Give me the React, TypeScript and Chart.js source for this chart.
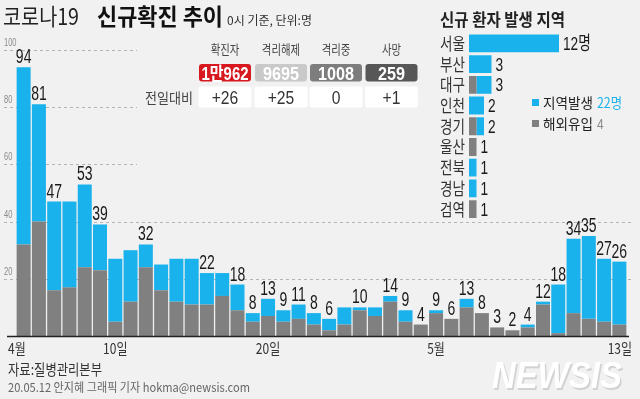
import React, { useEffect, useRef } from 'react';
import { Chart, registerables } from 'chart.js';

Chart.register(...registerables);

// ---------------- data ----------------
const categories = ['4/4', '4/5', '4/6', '4/7', '4/8', '4/9', '4/10', '4/11', '4/12', '4/13', '4/14', '4/15', '4/16', '4/17', '4/18', '4/19', '4/20', '4/21', '4/22', '4/23', '4/24', '4/25', '4/26', '4/27', '4/28', '4/29', '4/30', '5/1', '5/2', '5/3', '5/4', '5/5', '5/6', '5/7', '5/8', '5/9', '5/10', '5/11', '5/12', '5/13'];
const importedCases = [32, 40, 16, 17, 24, 23, 5, 12, 24, 16, 12, 11, 11, 14, 9, 5, 7, 5, 6, 4, 2, 4, 9, 7, 12, 5, 4, 8, 6, 10, 8, 3, 2, 3, 11, 1, 8, 6, 5, 4];
const localCases = [62, 41, 31, 30, 29, 16, 22, 18, 8, 9, 15, 16, 11, 8, 9, 3, 6, 4, 5, 4, 4, 6, 1, 3, 2, 4, 0, 1, 0, 3, 0, 0, 0, 1, 1, 17, 26, 29, 22, 22];
const valueLabels = ['94', '81', '47', '', '53', '39', '', '', '32', '', '', '', '22', '', '18', '8', '13', '9', '11', '8', '6', '', '10', '', '14', '9', '4', '9', '6', '13', '8', '3', '2', '4', '12', '18', '34', '35', '27', '26'];
const xTickIndex = [0, 6, 16, 27, 39];
const xTickText = ['4월', '10일', '20일', '5월', '13일'];
const yTicks = [20, 40, 60, 80, 100];

const statHeaders = ['확진자', '격리해제', '격리중', '사망'];
const statValues = ['1만962', '9695', '1008', '259'];
const statDiffs = ['+26', '+25', '0', '+1'];
const statDiffTitle = '전일대비';

const regionNames = ['서울', '부산', '대구', '인천', '경기', '울산', '전북', '경남', '검역'];
const regionLocal = [12, 3, 2, 2, 1, 0, 1, 1, 0];
const regionImported = [0, 0, 1, 0, 1, 1, 0, 0, 1];
const regionLabels = ['12명', '3', '3', '2', '2', '1', '1', '1', '1'];
const legendLocalText = '지역발생';
const legendLocalTotal = '22명';
const legendImportedText = '해외유입';
const legendImportedTotal = '4';

const titleA = '코로나19';
const titleB = '신규확진 추이';
const titleNote = '0시 기준, 단위:명';
const regionTitle = '신규 환자 발생 지역';
const sourceText = '자료:질병관리본부';
const creditText = '20.05.12 안지혜 그래픽 기자 hokma@newsis.com';
const logoText = 'NEWSIS';

// ---------------- styles ----------------
const BG = '#f1f1f1';
const BLUE = '#1ab2ec';
const GRAY = '#808080';
const STAT_COLORS = ['#d7191f', '#c9c9c9', '#7d7d7d', '#575757'];
const KR = '"Noto Sans CJK KR", "Noto Sans", sans-serif';
const NUM = '"Liberation Sans", "Noto Sans CJK KR", sans-serif';

function txt(ctx: CanvasRenderingContext2D, s: string, x: number, y: number, font: string, color: string, align: CanvasTextAlign = 'left', sx = 1) {
  ctx.save();
  ctx.font = font;
  ctx.fillStyle = color;
  ctx.textAlign = align;
  ctx.textBaseline = 'alphabetic';
  ctx.translate(x, y);
  ctx.scale(sx, 1);
  ctx.fillText(s, 0, 0);
  ctx.restore();
}

function fit(ctx: CanvasRenderingContext2D, s: string, x: number, y: number, font: string, color: string, width: number, align: CanvasTextAlign = 'left') {
  ctx.save();
  ctx.font = font;
  const w = ctx.measureText(s).width;
  ctx.restore();
  txt(ctx, s, x, y, font, color, align, width / w);
}

const mainDecor = {
  id: 'mainDecor',
  beforeDraw(chart: any) {
    const ctx = chart.ctx;
    ctx.save();
    ctx.fillStyle = BG;
    ctx.fillRect(0, 0, chart.width, chart.height);
    ctx.restore();
  },
  beforeDatasetsDraw(chart: any) {
    const ctx = chart.ctx;
    const ys = chart.scales.y;
    ctx.save();
    ctx.strokeStyle = '#b4b4b4';
    ctx.lineWidth = 1;
    ctx.setLineDash([3, 3]);
    yTicks.forEach((v) => {
      const y = Math.round(ys.getPixelForValue(v)) + 0.5;
      const xEnd = v >= 60 ? 137 : 631;
      ctx.beginPath();
      ctx.moveTo(4, y);
      ctx.lineTo(xEnd, y);
      ctx.stroke();
    });
    ctx.restore();
    yTicks.forEach((v) => {
      const y = ys.getPixelForValue(v);
      txt(ctx, String(v), 4, y - 4, `10px ${NUM}`, '#8a8a8a', 'left', 0.75);
    });
  },
  afterDatasetsDraw(chart: any) {
    const ctx = chart.ctx;
    const xs = chart.scales.x;
    const ys = chart.scales.y;
    const area = chart.chartArea;
    // baseline
    ctx.save();
    ctx.strokeStyle = '#222';
    ctx.lineWidth = 1.5;
    ctx.beginPath();
    ctx.moveTo(7, area.bottom + 0.5);
    ctx.lineTo(629, area.bottom + 0.5);
    ctx.stroke();
    ctx.restore();
    // value labels
    valueLabels.forEach((s, i) => {
      if (!s) return;
      const x = xs.getPixelForValue(i);
      const y = ys.getPixelForValue(importedCases[i] + localCases[i]);
      txt(ctx, s, x, y - 4, `20px ${NUM}`, '#1a1a1a', 'center', 0.7);
    });
    // x tick labels
    xTickIndex.forEach((idx, k) => {
      const x = xs.getPixelForValue(idx);
      let align: CanvasTextAlign = 'center';
      let px = x;
      if (k === 0) { align = 'left'; px = area.left - 8; }
      if (k === xTickIndex.length - 1) { align = 'right'; px = area.right + 5; }
      txt(ctx, xTickText[k], px, 354, `15px ${KR}`, '#333', align, 0.8);
    });
    // title
    fit(ctx, titleA, 3, 25, `23px ${KR}`, '#222', 76);
    fit(ctx, titleB, 97, 25, `bold 23px ${KR}`, '#111', 126);
    fit(ctx, titleNote, 227, 25, `12px ${KR}`, '#333', 85);
    // stats table
    const centers = [225, 281, 336, 391.5];
    statHeaders.forEach((h, i) => {
      txt(ctx, h, centers[i], 54, `13px ${KR}`, '#444', 'center', 0.8);
      ctx.save();
      ctx.fillStyle = STAT_COLORS[i];
      ctx.beginPath();
      (ctx as any).roundRect(centers[i] - 26, 64, 52, 17.5, 3);
      ctx.fill();
      ctx.fillStyle = '#ffffff';
      ctx.beginPath();
      (ctx as any).roundRect(centers[i] - 26.5, 86.5, 53, 21, 2);
      ctx.fill();
      ctx.restore();
      ctx.save();
      ctx.font = `bold 18px ${NUM}`;
      const w = ctx.measureText(statValues[i]).width;
      ctx.restore();
      const sx = Math.min(0.9, 47 / w);
      txt(ctx, statValues[i], centers[i], 79.5, `bold 18px ${NUM}`, '#ffffff', 'center', sx);
      txt(ctx, statDiffs[i], centers[i], 104, `18px ${NUM}`, '#333', 'center', 0.87);
    });
    fit(ctx, statDiffTitle, 193, 103, `14px ${KR}`, '#444', 48, 'right');
    // footer
    fit(ctx, sourceText, 8, 375, `15px ${KR}`, '#333', 94);
    fit(ctx, creditText, 8, 392, `12px ${KR}`, '#666', 242);
    ctx.save();
    ctx.font = `italic bold 36px "Liberation Sans", sans-serif`;
    const lw = ctx.measureText(logoText).width;
    ctx.restore();
    txt(ctx, logoText, 493.5, 389.5, `italic bold 36px "Liberation Sans", sans-serif`, '#d2d2d2', 'left', 130 / lw);
    txt(ctx, logoText, 492, 388, `italic bold 36px "Liberation Sans", sans-serif`, '#ffffff', 'left', 130 / lw);
  },
};

const regionDecor = {
  id: 'regionDecor',
  afterDatasetsDraw(chart: any) {
    const ctx = chart.ctx;
    const xs = chart.scales.x;
    const ys = chart.scales.y;
    fit(ctx, regionTitle, 440, 26, `bold 17px ${KR}`, '#222', 125);
    regionNames.forEach((n, i) => {
      const y = ys.getPixelForValue(i);
      fit(ctx, n, 440, y + 6.5, `17px ${KR}`, '#333', 25);
      const xe = xs.getPixelForValue(regionLocal[i] + regionImported[i]);
      txt(ctx, regionLabels[i], xe + 4, y + 6.5, `19px ${NUM}`, '#1a1a1a', 'left', 0.72);
    });
    // legend
    ctx.save();
    ctx.fillStyle = BLUE;
    ctx.fillRect(532, 99, 7, 7);
    ctx.fillStyle = GRAY;
    ctx.fillRect(532, 120, 7, 7);
    ctx.restore();
    fit(ctx, legendLocalText, 543, 107.5, `14px ${KR}`, '#222', 50);
    fit(ctx, legendLocalTotal, 597, 107.5, `14px ${KR}`, BLUE, 25);
    fit(ctx, legendImportedText, 543, 128.5, `14px ${KR}`, '#222', 50);
    txt(ctx, legendImportedTotal, 597, 128.5, `14px ${NUM}`, '#8a8a8a', 'left', 0.85);
  },
};

export default function App() {
  const mainRef = useRef<HTMLCanvasElement>(null);
  const regRef = useRef<HTMLCanvasElement>(null);

  useEffect(() => {
    document.body.style.margin = '0';
    const main = new Chart(mainRef.current as HTMLCanvasElement, {
      type: 'bar',
      data: {
        labels: categories,
        datasets: [
          { label: '해외유입', data: importedCases, backgroundColor: GRAY, borderWidth: 0, barPercentage: 1, categoryPercentage: 0.917 },
          { label: '지역발생', data: localCases, backgroundColor: BLUE, borderWidth: 0, barPercentage: 1, categoryPercentage: 0.917 },
        ],
      },
      options: {
        responsive: false,
        maintainAspectRatio: false,
        animation: false,
        devicePixelRatio: 1,
        layout: { padding: { left: 16, right: 13, top: 50, bottom: 63 } },
        scales: {
          x: { display: false, stacked: true, grid: { display: false } },
          y: { display: false, stacked: true, min: 0, max: 100, grid: { display: false } },
        },
        plugins: { legend: { display: false }, tooltip: { enabled: false } },
      },
      plugins: [mainDecor],
    });
    const reg = new Chart(regRef.current as HTMLCanvasElement, {
      type: 'bar',
      data: {
        labels: regionNames,
        datasets: [
          { label: '해외유입', data: regionImported, backgroundColor: GRAY, borderWidth: 0, barPercentage: 1, categoryPercentage: 0.86 },
          { label: '지역발생', data: regionLocal, backgroundColor: BLUE, borderWidth: 0, barPercentage: 1, categoryPercentage: 0.86 },
        ],
      },
      options: {
        indexAxis: 'y',
        responsive: false,
        maintainAspectRatio: false,
        animation: false,
        devicePixelRatio: 1,
        layout: { padding: { left: 469, right: 21, top: 33, bottom: 179.5 } },
        scales: {
          x: { display: false, stacked: true, min: 0, max: 20 },
          y: { display: false, stacked: true },
        },
        plugins: { legend: { display: false }, tooltip: { enabled: false } },
      },
      plugins: [regionDecor],
    });
    return () => {
      main.destroy();
      reg.destroy();
    };
  }, []);

  return (
    <div style={{ position: 'relative', width: 640, height: 399, background: BG, overflow: 'hidden' }}>
      <canvas ref={mainRef} width={640} height={399} style={{ position: 'absolute', left: 0, top: 0, width: 640, height: 399 }} />
      <canvas ref={regRef} width={640} height={399} style={{ position: 'absolute', left: 0, top: 0, width: 640, height: 399 }} />
    </div>
  );
}
